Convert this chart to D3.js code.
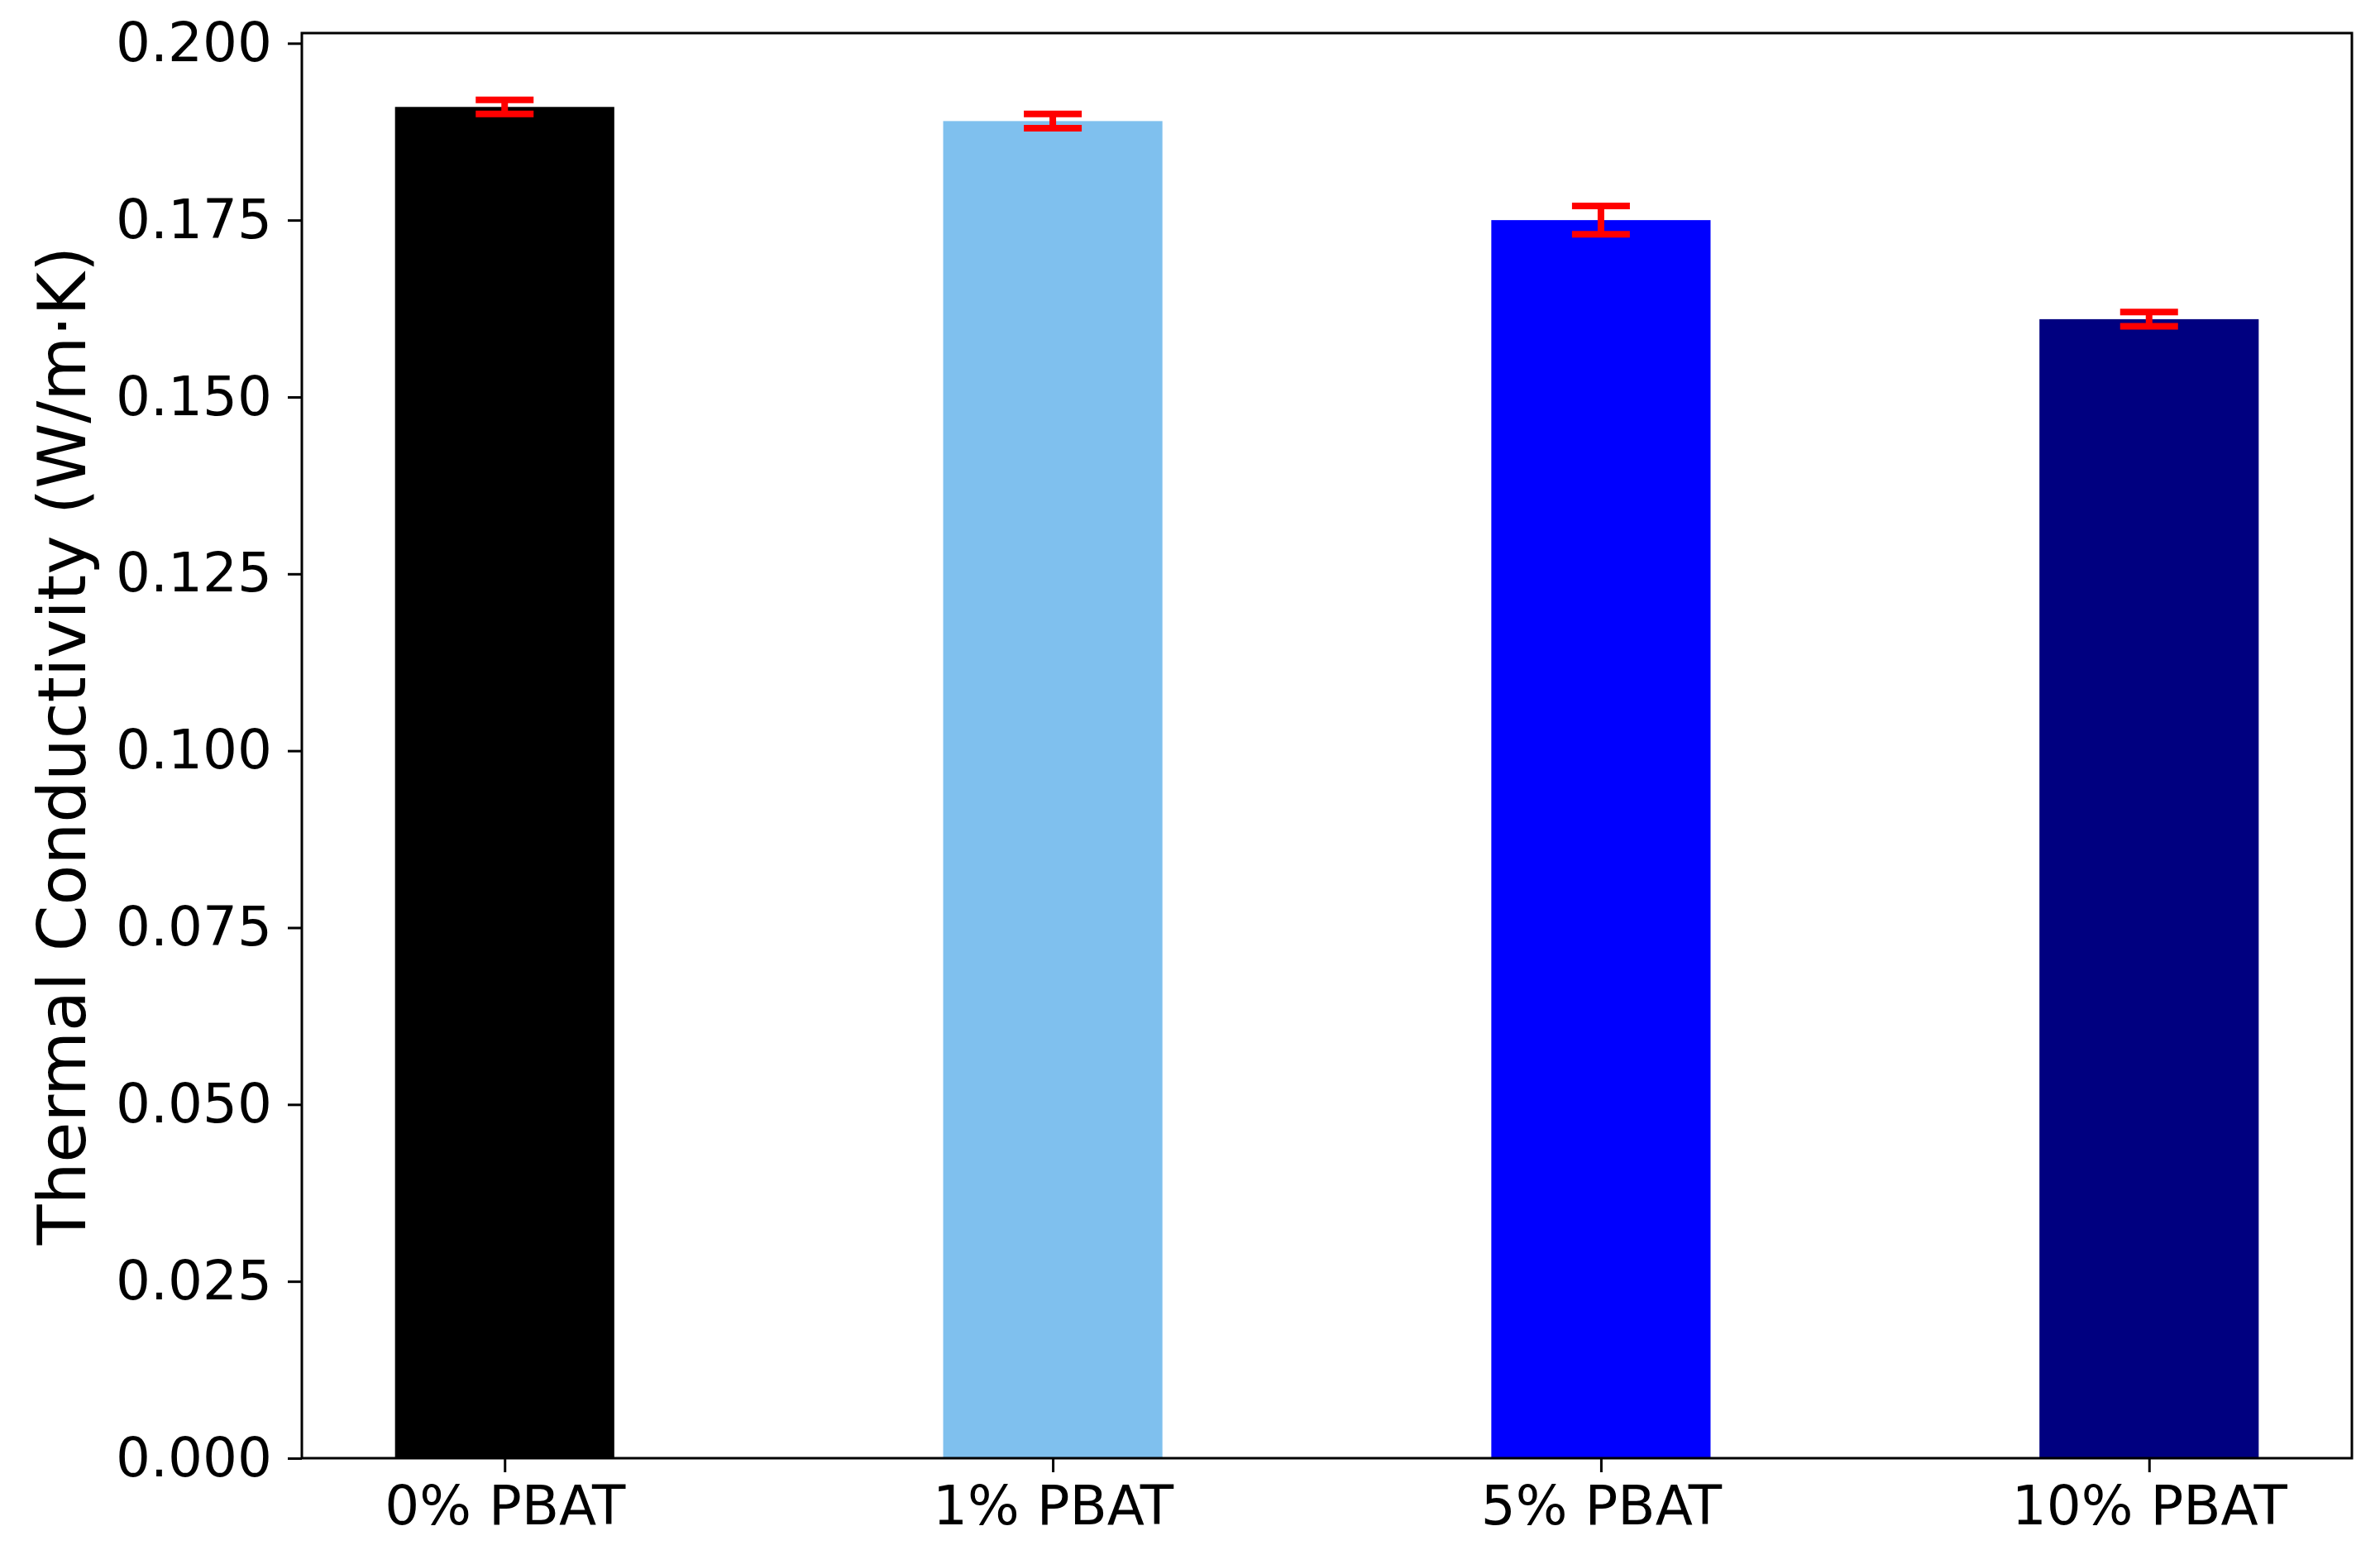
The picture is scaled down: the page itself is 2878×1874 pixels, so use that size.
<!DOCTYPE html>
<html>
<head>
<meta charset="utf-8">
<script src="https://cdn.jsdelivr.net/npm/d3@7"></script>
<style>
  html, body { margin: 0; padding: 0; background: #ffffff; }
  svg { display: block; }
  text { font-family: "DejaVu Sans", sans-serif; fill: #000; }
</style>
</head>
<body>
<script>
// ---- data ----
const categories = ["0% PBAT", "1% PBAT", "5% PBAT", "10% PBAT"];
const values = [0.191, 0.189, 0.175, 0.161];
const errors = [0.001, 0.001, 0.002, 0.001];
const barColors = ["#000000", "#7fc0ee", "#0000ff", "#000080"];
const yTicks = [0.000, 0.025, 0.050, 0.075, 0.100, 0.125, 0.150, 0.175, 0.200];
const yLabel = "Thermal Conductivity (W/m\u00B7K)";

(function () {
  // ---- layout ----
  const W = 2878, H = 1874;
  const mLeft = 365, mRight = 2844, mTop = 40, mBottom = 1763;
  const barWidth = 0.4;

  const svg = d3.select("body").append("svg")
    .attr("width", W).attr("height", H);
  svg.append("rect").attr("width", W).attr("height", H).attr("fill", "#fff");

  const x = d3.scaleLinear().domain([-0.37, 3.37]).range([mLeft, mRight]);
  const y = d3.scaleLinear().domain([0, 0.2]).range([mBottom, 52.3]);

  // bars
  svg.append("g").selectAll("rect").data(values).join("rect")
    .attr("x", (d, i) => x(i - barWidth / 2))
    .attr("width", (d, i) => x(i + barWidth / 2) - x(i - barWidth / 2))
    .attr("y", d => y(d))
    .attr("height", d => y(0) - y(d))
    .attr("fill", (d, i) => barColors[i]);

  // error bars
  const capHalf = 35;
  const eg = svg.append("g").attr("stroke", "#ff0000").attr("stroke-width", 8).attr("fill", "none");
  values.forEach((v, i) => {
    const cx = x(i);
    eg.append("line").attr("x1", cx).attr("x2", cx).attr("y1", y(v - errors[i])).attr("y2", y(v + errors[i]));
    eg.append("line").attr("x1", cx - capHalf).attr("x2", cx + capHalf).attr("y1", y(v + errors[i])).attr("y2", y(v + errors[i]));
    eg.append("line").attr("x1", cx - capHalf).attr("x2", cx + capHalf).attr("y1", y(v - errors[i])).attr("y2", y(v - errors[i]));
  });

  // y axis
  const yAxis = d3.axisLeft(y).tickValues(yTicks).tickFormat(d3.format(".3f"))
    .tickSize(17).tickPadding(19);
  const gy = svg.append("g").attr("transform", `translate(${mLeft},0)`).call(yAxis);
  gy.select(".domain").remove();
  gy.selectAll(".tick line").attr("stroke", "#000").attr("stroke-width", 3);
  gy.selectAll(".tick text").attr("font-size", 66).attr("font-family", "DejaVu Sans");

  // x axis
  const xAxis = d3.axisBottom(x).tickValues(categories.map((c, i) => i))
    .tickFormat(i => categories[i]).tickSize(17).tickPadding(16);
  const gx = svg.append("g").attr("transform", `translate(0,${mBottom})`).call(xAxis);
  gx.select(".domain").remove();
  gx.selectAll(".tick line").attr("stroke", "#000").attr("stroke-width", 3);
  gx.selectAll(".tick text").attr("font-size", 66).attr("font-family", "DejaVu Sans");

  // frame
  svg.append("rect")
    .attr("x", mLeft).attr("y", mTop)
    .attr("width", mRight - mLeft).attr("height", mBottom - mTop)
    .attr("fill", "none").attr("stroke", "#000").attr("stroke-width", 3);

  // y label
  svg.append("text")
    .attr("transform", `translate(103,${(mTop + mBottom) / 2}) rotate(-90)`)
    .attr("text-anchor", "middle")
    .attr("font-size", 80)
    .text(yLabel);
})();
</script>
</body>
</html>
